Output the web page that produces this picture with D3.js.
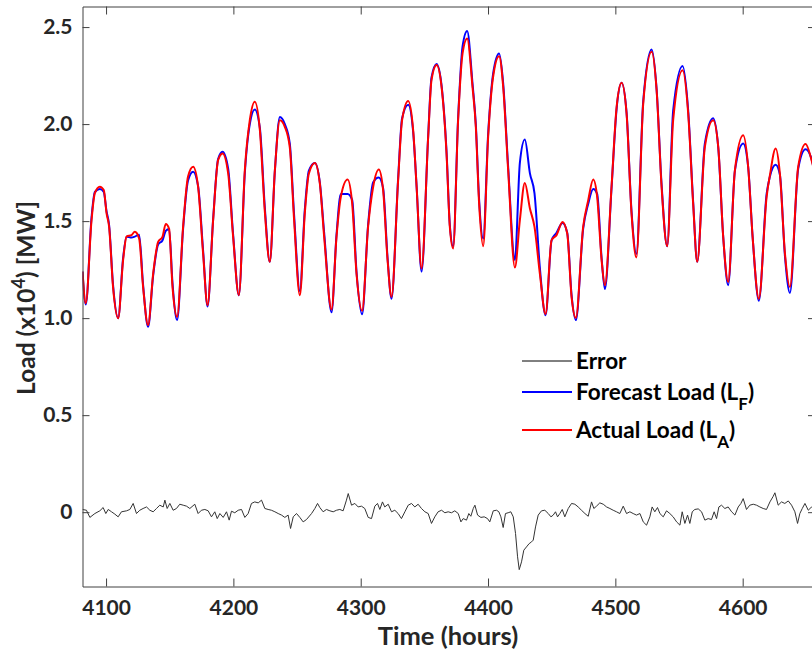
<!DOCTYPE html>
<html>
<head>
<meta charset="utf-8">
<script src="https://cdn.jsdelivr.net/npm/d3@7"></script>
<style>
  html, body { margin: 0; padding: 0; background: #fff; }
  svg { display: block; }
  text { font-family: Lato, "Open Sans", sans-serif; font-weight: bold; }
</style>
</head>
<body>
<svg id="chart" width="812" height="654"></svg>
<script>
// ---- data ----
const hours = [4081.5,4084.1,4088.6,4091.2,4095.1,4098.2,4100.4,4102.4,4105.5,4109.5,4113.4,4116.1,4120.0,4122.6,4126.0,4129.1,4133.0,4137.0,4140.9,4144.3,4146.9,4149.5,4152.2,4155.8,4160.5,4164.4,4168.4,4172.3,4176.2,4179.7,4184.1,4188.0,4191.5,4195.9,4199.8,4204.3,4209.0,4212.9,4216.8,4220.8,4224.7,4228.6,4232.6,4236.5,4240.4,4244.3,4247.7,4252.2,4256.1,4259.3,4264.0,4267.9,4271.3,4277.1,4281.0,4284.4,4289.7,4293.3,4296.7,4301.1,4305.8,4309.8,4314.2,4317.6,4321.1,4324.2,4329.4,4332.5,4337.3,4341.2,4343.9,4347.8,4353.0,4355.6,4359.6,4363.5,4367.4,4370.0,4372.6,4376.5,4380.0,4383.6,4387.8,4390.4,4393.0,4396.2,4400.1,4404.0,4408.7,4411.9,4415.8,4421.1,4425.0,4428.9,4432.9,4436.5,4440.7,4445.2,4449.9,4453.8,4458.5,4462.2,4465.6,4469.0,4474.7,4478.7,4482.6,4485.7,4489.2,4491.8,4497.0,4501.0,4504.9,4508.8,4512.7,4516.5,4521.9,4528.5,4532.4,4536.3,4540.7,4545.4,4552.8,4557.2,4561.1,4564.3,4570.3,4576.8,4580.8,4584.7,4588.6,4593.9,4600.4,4604.3,4607.8,4612.7,4618.8,4621.4,4625.9,4629.2,4633.2,4637.1,4643.6,4649.4,4654.1,4656.5];

const actualLoad = [1.24,1.077,1.505,1.644,1.677,1.66,1.54,1.47,1.16,1.00,1.30,1.42,1.428,1.445,1.41,1.16,0.964,1.23,1.393,1.419,1.485,1.46,1.16,1.007,1.47,1.73,1.78,1.677,1.335,1.067,1.505,1.814,1.849,1.746,1.419,1.118,1.763,2.02,2.115,1.969,1.55,1.29,1.763,2.02,1.986,1.88,1.505,1.118,1.54,1.746,1.80,1.694,1.419,1.045,1.419,1.625,1.714,1.59,1.23,1.038,1.47,1.677,1.766,1.66,1.299,1.11,1.711,2.02,2.119,1.969,1.677,1.256,1.935,2.227,2.304,2.192,1.849,1.47,1.359,2.02,2.364,2.441,2.192,1.986,1.59,1.371,1.935,2.244,2.35,2.192,1.763,1.261,1.505,1.697,1.565,1.47,1.23,1.021,1.402,1.428,1.496,1.436,1.11,1.002,1.47,1.608,1.714,1.625,1.299,1.17,1.677,2.089,2.213,2.055,1.54,1.313,2.107,2.373,2.175,1.677,1.371,2.02,2.278,2.055,1.59,1.29,1.883,2.02,1.883,1.419,1.187,1.763,1.943,1.78,1.419,1.10,1.625,1.737,1.874,1.746,1.333,1.161,1.78,1.897,1.814,1.75];

const forecastLoad = [1.24,1.07,1.52,1.65,1.665,1.65,1.55,1.48,1.17,1.00,1.31,1.42,1.415,1.42,1.43,1.17,0.955,1.22,1.38,1.40,1.45,1.46,1.18,0.99,1.46,1.71,1.755,1.68,1.35,1.06,1.51,1.82,1.857,1.77,1.43,1.118,1.75,2.00,2.075,1.98,1.57,1.29,1.76,2.036,2.00,1.90,1.53,1.14,1.56,1.76,1.80,1.70,1.44,1.03,1.43,1.64,1.64,1.61,1.24,1.02,1.48,1.70,1.725,1.67,1.31,1.10,1.72,2.03,2.10,1.96,1.68,1.24,1.94,2.24,2.31,2.20,1.86,1.48,1.37,2.03,2.40,2.48,2.21,2.00,1.61,1.41,1.95,2.26,2.364,2.21,1.78,1.30,1.80,1.92,1.746,1.643,1.26,1.015,1.40,1.44,1.49,1.44,1.12,0.99,1.46,1.59,1.665,1.64,1.31,1.15,1.67,2.08,2.213,2.06,1.55,1.33,2.12,2.385,2.18,1.69,1.371,2.07,2.30,2.07,1.60,1.29,1.90,2.03,1.88,1.42,1.17,1.76,1.90,1.78,1.42,1.09,1.64,1.73,1.79,1.74,1.32,1.13,1.77,1.87,1.82,1.75];

const errorHours = [4081.5,4084.6,4087.3,4091.2,4095.1,4097.7,4099.8,4101.7,4104.3,4106.9,4109.5,4112.1,4116.1,4118.7,4121.3,4123.9,4126.5,4129.1,4131.8,4134.4,4137.0,4139.6,4142.2,4144.9,4146.2,4148.0,4150.1,4152.7,4155.3,4157.9,4160.6,4163.2,4165.8,4169.7,4172.3,4174.9,4177.6,4180.2,4182.8,4185.4,4187.3,4189.4,4192.0,4194.6,4196.7,4198.5,4201.1,4203.8,4206.4,4209.0,4211.6,4214.2,4216.8,4219.5,4222.1,4224.7,4227.3,4229.9,4232.6,4235.2,4237.8,4240.4,4243.0,4244.9,4247.0,4249.6,4252.2,4254.8,4257.4,4261.4,4264.0,4266.1,4267.9,4270.5,4273.1,4275.8,4278.4,4281.0,4283.6,4286.2,4288.8,4290.2,4292.8,4295.4,4298.0,4300.6,4303.2,4305.9,4308.5,4311.1,4313.2,4315.0,4317.1,4318.9,4321.6,4324.2,4326.8,4329.4,4332.0,4334.7,4337.3,4339.9,4342.5,4345.1,4347.7,4350.4,4353.0,4355.6,4358.2,4360.8,4363.5,4366.1,4368.7,4371.3,4373.9,4376.6,4378.7,4380.5,4383.1,4384.9,4386.5,4388.4,4389.7,4391.8,4394.4,4397.0,4399.6,4401.4,4404.1,4406.7,4408.5,4410.1,4411.9,4413.7,4415.8,4417.9,4419.8,4421.6,4423.2,4424.5,4426.3,4428.1,4430.2,4432.3,4434.2,4435.5,4437.3,4439.4,4442.0,4444.6,4447.3,4449.4,4451.2,4453.0,4454.6,4456.4,4458.3,4460.3,4463.0,4465.6,4468.2,4470.8,4473.4,4476.1,4478.7,4481.3,4483.1,4485.2,4487.8,4490.5,4493.1,4495.7,4498.3,4500.9,4503.5,4506.2,4508.8,4511.4,4514.0,4516.6,4519.3,4521.9,4524.5,4527.1,4528.9,4531.0,4533.1,4535.0,4537.6,4540.2,4542.8,4545.4,4548.1,4550.7,4552.5,4554.6,4556.7,4558.5,4560.4,4562.4,4565.1,4567.7,4570.3,4572.9,4575.5,4577.6,4579.5,4581.3,4583.4,4586.0,4588.6,4591.3,4593.9,4596.5,4598.6,4600.4,4603.0,4605.6,4608.3,4610.9,4613.5,4616.1,4618.7,4621.4,4624.0,4625.3,4627.9,4630.5,4633.1,4635.8,4638.4,4641.0,4643.1,4644.9,4646.8,4648.9,4651.5,4654.1,4656.5];

const errorValues = [0.014,0.010,-0.027,-0.007,0.007,0.024,-0.007,0.014,0.002,-0.010,-0.024,0.002,0.007,0.014,0.045,-0.007,0.010,0.019,0.027,0.010,0.002,0.019,0.036,0.027,0.062,0.019,0.045,0.010,0.019,0.041,0.036,0.031,0.019,0.041,-0.007,0.010,0.014,0.007,-0.024,0.002,-0.033,-0.007,-0.027,0.002,-0.041,0.005,-0.003,0.010,0.014,-0.027,-0.007,0.045,0.053,0.048,0.062,0.019,0.014,0.010,0.002,-0.007,-0.015,-0.027,-0.015,-0.084,-0.024,-0.007,-0.027,-0.050,-0.038,-0.007,0.019,0.045,0.024,0.002,0.014,0.007,0.002,0.010,0.014,0.007,0.062,0.096,0.036,0.045,0.027,0.031,0.019,-0.027,-0.033,0.031,0.045,0.014,0.053,0.027,0.041,0.002,0.010,-0.007,-0.033,0.002,0.036,0.045,0.027,0.041,0.019,0.002,-0.007,-0.058,-0.024,0.002,0.010,-0.003,0.002,-0.003,0.007,-0.007,-0.050,-0.033,-0.041,-0.007,-0.021,0.019,0.036,-0.015,-0.027,-0.024,-0.033,-0.050,0.007,0.010,0.002,-0.024,-0.079,-0.007,-0.003,0.002,-0.024,-0.110,-0.230,-0.296,-0.256,-0.196,-0.179,-0.162,-0.153,-0.144,-0.076,-0.015,0.007,0.010,-0.007,-0.024,-0.015,0.002,-0.024,-0.007,0.014,-0.024,0.019,0.045,0.041,0.027,0.010,-0.007,-0.021,0.053,0.019,0.031,0.048,0.041,0.027,0.019,0.010,0.002,-0.007,0.031,-0.007,0.002,-0.007,-0.015,-0.007,-0.050,-0.067,-0.024,0.027,0.002,0.024,-0.007,-0.024,0.007,-0.007,-0.024,-0.050,-0.067,0.002,-0.058,-0.015,-0.058,0.002,0.014,0.017,0.002,-0.041,-0.033,-0.038,0.002,-0.033,0.027,0.036,0.019,0.027,0.002,-0.015,0.027,0.045,0.070,0.014,0.036,0.041,0.036,0.027,0.019,0.014,0.053,0.082,0.100,0.036,0.053,0.045,0.058,0.036,0.002,-0.058,-0.007,0.019,0.045,0.010,0.027,0.02];

const xTicks = [4100, 4200, 4300, 4400, 4500, 4600];
const yTicks = [0, 0.5, 1.0, 1.5, 2.0, 2.5];
const yTickLabels = ["0", "0.5", "1.0", "1.5", "2.0", "2.5"];
const legendLabels = [
  { name: "Error", sub: "", color: "#000000", width: 1 },
  { name: "Forecast Load (L", sub: "F", color: "#0000ff", width: 2 },
  { name: "Actual Load (L", sub: "A", color: "#ff0000", width: 2 }
];

// ---- layout ----
const svg = d3.select("#chart");
const L = 82.5, R = 815, T = 6.5, B = 586.5;

const x = d3.scaleLinear().domain([4081.5, 4656.8]).range([L, R]);
const y = d3.scaleLinear().domain([-0.383, 2.606]).range([B, T]);

svg.append("rect").attr("width", 812).attr("height", 654).attr("fill", "#fff");

svg.append("defs").append("clipPath").attr("id", "clip")
  .append("rect").attr("x", L).attr("y", T).attr("width", R - L).attr("height", B - T);

const plot = svg.append("g").attr("clip-path", "url(#clip)");

const loadLine = (vals) => d3.line()
  .x((d, i) => x(hours[i]))
  .y(d => y(d))
  .curve(d3.curveMonotoneX)(vals);

plot.append("path").attr("d", loadLine(forecastLoad))
  .attr("fill", "none").attr("stroke", "#0000ff").attr("stroke-width", 2)
  .attr("stroke-linejoin", "round");
plot.append("path").attr("d", loadLine(actualLoad))
  .attr("fill", "none").attr("stroke", "#ff0000").attr("stroke-width", 2)
  .attr("stroke-linejoin", "round");

const errLine = d3.line()
  .x((d, i) => x(errorHours[i]))
  .y(d => y(d));
plot.append("path").attr("d", errLine(errorValues))
  .attr("fill", "none").attr("stroke", "#333333").attr("stroke-width", 1)
  .attr("stroke-linejoin", "round");

// ---- axes ----
const axisColor = "#404040";
const gx = svg.append("g").attr("transform", `translate(0,${B})`)
  .call(d3.axisBottom(x).tickValues(xTicks).tickSizeInner(-8).tickSizeOuter(0)
    .tickPadding(14).tickFormat(d3.format("d")));
const gxTop = svg.append("g").attr("transform", `translate(0,${T})`)
  .call(d3.axisTop(x).tickValues(xTicks).tickSizeInner(-8).tickSizeOuter(0).tickFormat(""));
const gy = svg.append("g").attr("transform", `translate(${L},0)`)
  .call(d3.axisLeft(y).tickValues(yTicks).tickSizeInner(-7).tickSizeOuter(0)
    .tickPadding(10).tickFormat((d, i) => yTickLabels[i]));
const gyR = svg.append("g").attr("transform", `translate(${R},0)`)
  .call(d3.axisRight(y).tickValues(yTicks).tickSizeInner(-7).tickSizeOuter(0).tickFormat(""));

[gx, gxTop, gy, gyR].forEach(g => {
  g.select(".domain").attr("stroke", axisColor).attr("stroke-width", 1);
  g.selectAll(".tick line").attr("stroke", axisColor).attr("stroke-width", 1);
  g.selectAll(".tick text").attr("fill", "#262626")
    .style("font-family", "Lato, 'Open Sans', sans-serif")
    .style("font-weight", "bold").style("font-size", "21px");
});

// axis titles
svg.append("text").attr("x", 448).attr("y", 645).attr("text-anchor", "middle")
  .attr("fill", "#262626").style("font-size", "25.5px").text("Time (hours)");

const yl = svg.append("text").attr("transform", "translate(35,298) rotate(-90)")
  .attr("text-anchor", "middle").attr("fill", "#262626").style("font-size", "24.5px");
yl.append("tspan").text("Load (x10");
yl.append("tspan").attr("dy", "-10").style("font-size", "18px").text("4");
yl.append("tspan").attr("dy", "10").text(") [MW]");

// ---- legend ----
const legY = [361, 392, 430];
const leg = svg.append("g");
legendLabels.forEach((d, i) => {
  leg.append("line").attr("x1", 522).attr("x2", 572).attr("y1", legY[i]).attr("y2", legY[i])
    .attr("stroke", d.color).attr("stroke-width", d.width);
  const t = leg.append("text").attr("x", 576).attr("y", legY[i] + 8)
    .attr("fill", "#000").style("font-size", "22.5px");
  t.append("tspan").text(d.name);
  if (d.sub) {
    t.append("tspan").attr("dy", "10").style("font-size", "17px").text(d.sub);
    t.append("tspan").attr("dy", "-10").text(")");
  }
});
</script>
</body>
</html>
